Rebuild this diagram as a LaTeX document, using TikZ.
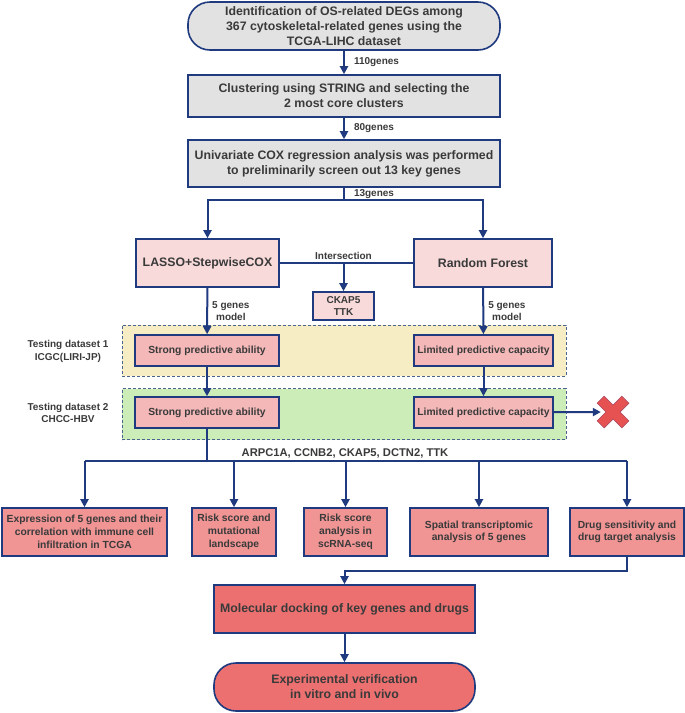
\documentclass[tikz,border=0pt]{standalone}
\usepackage{fontspec}
\setmainfont{Liberation Sans}
\usetikzlibrary{arrows.meta,positioning}
\definecolor{navy}{HTML}{1F3A7F}
\definecolor{dashblue}{HTML}{4A6490}
\definecolor{txtgray}{HTML}{3A3A3A}
\definecolor{stepgray}{HTML}{E2E2E2}
\definecolor{palepink}{HTML}{F9DADA}
\definecolor{midpink}{HTML}{F4B8B8}
\definecolor{respink}{HTML}{F09494}
\definecolor{deeppink}{HTML}{EC7070}
\definecolor{bgyellow}{HTML}{F7EDC5}
\definecolor{bggreen}{HTML}{CDEDB8}
\definecolor{xred}{HTML}{E65252}

\begin{document}
\begin{tikzpicture}[x=1pt, y=-1pt, text=txtgray,
  big/.style={font=\bfseries\fontsize{12.3}{15}\selectfont},
  small/.style={font=\bfseries\fontsize{10.3}{12.7}\selectfont},
  lbl/.style={font=\bfseries\fontsize{10}{12.5}\selectfont, inner sep=0pt, align=center},
  box/.style={draw=navy, line width=1.6pt, align=center, inner sep=1pt},
  stadium/.style={box, big, rounded corners=22pt},
  stepbox/.style={box, big, fill=stepgray, minimum width=312, minimum height=44},
  methbox/.style={box, big, fill=palepink, minimum height=48},
  testbox/.style={box, small, fill=midpink, minimum height=31},
  resbox/.style={box, small, fill=respink, minimum height=48},
  bgbox/.style={draw=dashblue, line width=1pt, dash pattern=on 3pt off 2pt, minimum width=444, minimum height=51},
  line/.style={draw=navy, line width=2pt},
  arr/.style={line, -{Triangle[length=8pt, width=8pt]}}]
  \useasboundingbox (0,0) rectangle (685,713);

  % ---- screening steps ----
  \node[stadium, fill=stepgray, minimum width=312, minimum height=48] (ident) at (344,26)
    {Identification of OS-related DEGs among\\367 cytoskeletal-related genes using the\\TCGA-LIHC dataset};
  \node[stepbox, minimum height=42] (string) at (344,96)
    {Clustering using STRING and selecting the\\2 most core clusters};
  \node[stepbox, minimum height=47] (cox) at (344,163.5)
    {Univariate COX regression analysis was performed\\to preliminarily screen out 13 key genes};
  \draw[arr] (ident) -- (string) node[midway, right=9pt, lbl] {110genes};
  \draw[arr] (string) -- (cox) node[midway, right=9pt, lbl] {80genes};

  % ---- two models ----
  \node[methbox, minimum width=143] (lasso) at (207.5,263) {LASSO+StepwiseCOX};
  \node[methbox, minimum width=138] (rf) at (483,263) {Random Forest};
  \node[box, fill=palepink, lbl, inner sep=1pt, minimum width=61, minimum height=28] (inter) at (343.5,306) {CKAP5\\TTK};
  \coordinate (split) at (344,200);
  \draw[line] (cox) -- (split) node[midway, right=9pt, lbl] {13genes};
  \draw[arr] (split) -| (lasso);
  \draw[arr] (split) -| (rf);
  \draw[line] (lasso) -- (rf);
  \coordinate (isec) at (inter.north |- lasso);
  \node[lbl, above=3pt] (isectext) at (isec) {Intersection};
  \draw[arr] (isec) -- (inter);

  % ---- testing datasets ----
  \node[bgbox, fill=bgyellow] (ds1) at (344,350.5) {};
  \node[bgbox, fill=bggreen] (ds2) at (344,414) {};
  \node[lbl] (ds1text) at (68,351.5) {Testing dataset 1\\ICGC(LIRI-JP)};
  \node[lbl] (ds2text) at (68,413) {Testing dataset 2\\CHCC-HBV};
  \node[testbox, minimum width=144] (s1) at (207,350.5) {Strong predictive ability};
  \node[testbox, minimum width=139] (l1) at (483.5,350.5) {Limited predictive capacity};
  \node[testbox, minimum width=144] (s2) at (207,412.5) {Strong predictive ability};
  \node[testbox, minimum width=139] (l2) at (483.5,412.5) {Limited predictive capacity};
  \draw[arr] (lasso) -- (s1) node[midway, right=4pt, lbl] {5 genes\\model};
  \draw[arr] (rf) -- (l1) node[midway, right=4pt, lbl] {5 genes\\model};
  \draw[arr] (s1) -- (s2);
  \draw[arr] (l1) -- (l2);

  % ---- rejected model ----
  \node[minimum size=24, inner sep=0pt] (xmark) at (613,412) {};
  \fill[xred, draw=xred!70!navy, line width=0.6pt, rotate around={45:(xmark.center)}, shift={(xmark.center)}]
    (5,17.5) -- (5,5) -- (17.5,5) -- (17.5,-5) -- (5,-5) -- (5,-17.5) -- (-5,-17.5) -- (-5,-5)
    -- (-17.5,-5) -- (-17.5,5) -- (-5,5) -- (-5,17.5) -- cycle;
  \draw[arr] (l2) -- (xmark);

  % ---- downstream analyses ----
  \foreach \n/\x/\w/\t in {
    b1/84.5/165/{Expression of 5 genes and their\\correlation with immune cell\\infiltration in TCGA},
    b2/234/84/{Risk score and\\mutational\\landscape},
    b3/345.5/83/{Risk score\\analysis in\\scRNA-seq},
    b4/479/138/{Spatial transcriptomic\\analysis of 5 genes},
    b5/627/114/{Drug sensitivity and\\drug target analysis}} {
    \node[resbox, minimum width=\w] (\n) at (\x,532) {\t};
  }
  \coordinate (bar) at (345,461);
  \node[font=\bfseries\fontsize{11.2}{13}\selectfont, inner sep=0pt, above=3pt] (glist) at (bar) {ARPC1A, CCNB2, CKAP5, DCTN2, TTK};
  \draw[line] (s2) -- (s2 |- bar);
  \draw[line] (b1.north |- bar) -- (b5.north |- bar);
  \foreach \n in {b1,b2,b3,b4,b5}
    \draw[arr] (\n.north |- bar) -- (\n.north);

  % ---- docking and verification ----
  \node[box, big, fill=deeppink, minimum width=261, minimum height=48] (dock) at (344.5,609) {Molecular docking of key genes and drugs};
  \node[stadium, fill=deeppink, minimum width=261, minimum height=48] (final) at (344.5,687) {Experimental verification\\in vitro and in vivo};
  \draw[arr] (b5.south) -- ++(0,14) -| (dock);
  \draw[arr] (dock) -- (final);
\end{tikzpicture}
\end{document}
